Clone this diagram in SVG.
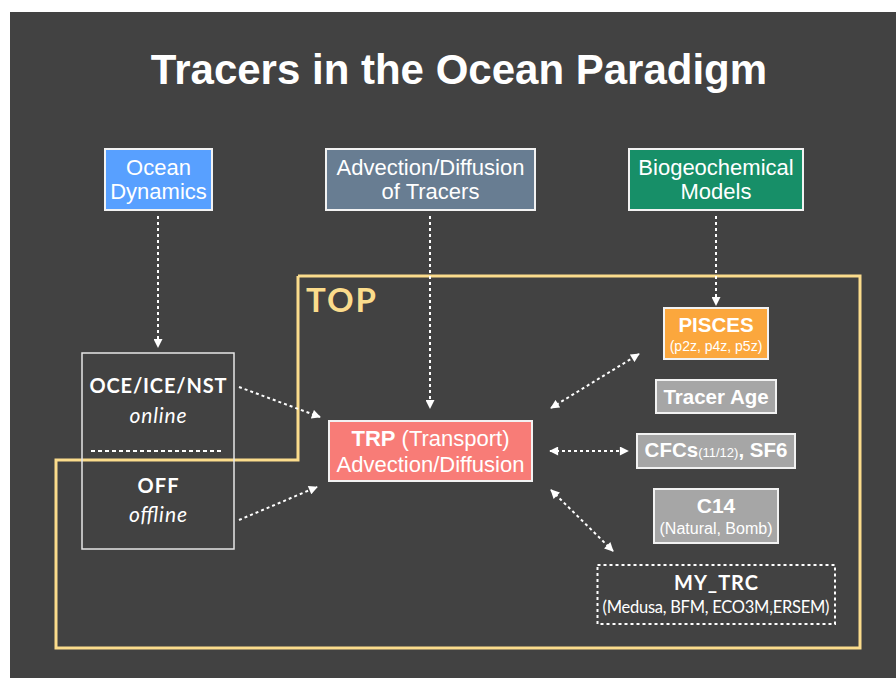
<svg xmlns="http://www.w3.org/2000/svg" width="896" height="678" viewBox="0 0 896 678">
<defs>
<style>
.bg{fill:#424242}
.hv{font-family:"Liberation Sans",Arial,sans-serif;fill:#fff;text-anchor:middle}
.av{font-family:Lato,"Noto Sans",sans-serif;fill:#fff;text-anchor:middle}
.b{font-weight:bold}
.box{stroke:#f2f2f2;stroke-width:2}
.con{fill:none;stroke:#fff;stroke-width:2;stroke-dasharray:3 3}
</style>
<marker id="ah" viewBox="0 0 10 10" refX="9" refY="5" markerWidth="10" markerHeight="9" markerUnits="userSpaceOnUse" orient="auto-start-reverse">
<path d="M0,0 L10,5 L0,10 Z" fill="#fff"/>
</marker>
</defs>
<rect x="0" y="0" width="896" height="678" fill="#fff"/>
<rect class="bg" x="10" y="12" width="886" height="666"/>
<text class="hv b" x="459" y="84" font-size="42">Tracers in the Ocean Paradigm</text>

<g id="top-frame">
<polyline points="298,276 860,276 860,648 56,648 56,460 298,460 298,276" fill="none" stroke="#fbdc8c" stroke-width="3"/>
<text x="306" y="312" font-family="Lato,'Noto Sans',sans-serif" font-weight="bold" font-size="33" fill="#fbdc8c" textLength="70">TOP</text>
</g>

<g id="ocean-dynamics">
<rect class="box" x="105" y="149" width="107" height="61" fill="#58a0ff"/>
<text class="hv" x="158.5" y="175" font-size="22">Ocean</text>
<text class="hv" x="158.5" y="199" font-size="22">Dynamics</text>
</g>
<g id="advection-diffusion">
<rect class="box" x="326" y="149" width="209" height="61" fill="#687d92"/>
<text class="hv" x="430.5" y="175" font-size="22">Advection/Diffusion</text>
<text class="hv" x="430.5" y="199" font-size="22">of Tracers</text>
</g>
<g id="biogeochemical">
<rect class="box" x="629" y="149" width="174" height="61" fill="#178f68"/>
<text class="hv" x="716" y="175" font-size="22">Biogeochemical</text>
<text class="hv" x="716" y="199" font-size="22">Models</text>
</g>

<g id="oce-off">
<rect x="82" y="353" width="152" height="196" fill="none" stroke="#e6e6e6" stroke-width="1.5"/>
<line x1="91" y1="451" x2="222" y2="451" stroke="#fff" stroke-width="2" stroke-dasharray="4 3"/>
<text class="av b" x="158" y="393" font-size="20" textLength="137">OCE/ICE/NST</text>
<text class="av" x="158" y="423" font-size="21" font-style="italic" textLength="57">online</text>
<text class="av b" x="158" y="493" font-size="20" textLength="41">OFF</text>
<text class="av" x="158" y="522" font-size="21" font-style="italic" textLength="58">offline</text>
</g>

<g id="trp">
<rect class="box" x="329" y="421" width="203" height="60" fill="#f87c77"/>
<text class="hv" x="430.5" y="446" font-size="22"><tspan font-weight="bold">TRP</tspan> (Transport)</text>
<text class="hv" x="430.5" y="472" font-size="22">Advection/Diffusion</text>
</g>

<g id="pisces">
<rect class="box" x="664" y="308" width="104" height="51" fill="#fba73d"/>
<text class="hv b" x="716" y="332" font-size="20.5">PISCES</text>
<text class="hv" x="716" y="351" font-size="14">(p2z, p4z, p5z)</text>
</g>
<g id="tracer-age">
<rect class="box" x="656" y="380" width="120" height="33" fill="#a6a6a6"/>
<text class="hv b" x="716" y="404" font-size="20.5">Tracer Age</text>
</g>
<g id="cfcs">
<rect class="box" x="637" y="434" width="158" height="34" fill="#a6a6a6"/>
<text class="hv b" x="716" y="457" font-size="20.5">CFCs<tspan font-weight="normal" font-size="13">(11/12)</tspan>, SF6</text>
</g>
<g id="c14">
<rect class="box" x="654" y="489" width="124" height="54" fill="#a6a6a6"/>
<text class="hv b" x="716" y="513" font-size="21">C14</text>
<text class="hv" x="716" y="534" font-size="16">(Natural, Bomb)</text>
</g>
<g id="my-trc">
<rect x="597.5" y="565" width="237.5" height="59" fill="none" stroke="#fff" stroke-width="2" stroke-dasharray="3 3"/>
<text class="av b" x="716" y="590" font-size="20" textLength="84">MY_TRC</text>
<text class="av" x="716" y="613" font-size="16.5" textLength="227">(Medusa, BFM, ECO3M,ERSEM)</text>
</g>

<g id="connectors">
<line class="con" x1="158" y1="216" x2="158" y2="347" marker-end="url(#ah)"/>
<line class="con" x1="430" y1="216" x2="430" y2="408" marker-end="url(#ah)"/>
<line class="con" x1="716" y1="216" x2="716" y2="305" marker-end="url(#ah)"/>
<line class="con" x1="239" y1="387" x2="320" y2="417" marker-end="url(#ah)"/>
<line class="con" x1="239" y1="520" x2="317" y2="487" marker-end="url(#ah)"/>
<line class="con" x1="551" y1="408" x2="639" y2="354" marker-start="url(#ah)" marker-end="url(#ah)"/>
<line class="con" x1="550" y1="451" x2="628" y2="451" marker-start="url(#ah)" marker-end="url(#ah)"/>
<line class="con" x1="551" y1="490" x2="613" y2="551" marker-start="url(#ah)" marker-end="url(#ah)"/>
</g>
</svg>
